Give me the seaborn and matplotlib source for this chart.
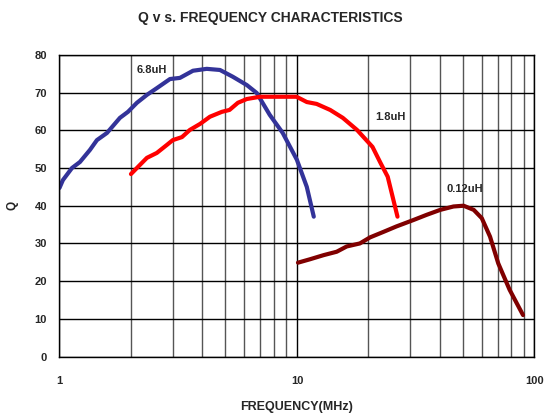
import numpy as np
import pandas as pd
import matplotlib
matplotlib.use("Agg")
import matplotlib.pyplot as plt
import seaborn as sns
from matplotlib.ticker import LogLocator, NullFormatter

# ---- data ----
freq_68 = [1.0, 1.034, 1.129, 1.22, 1.344, 1.438, 1.585, 1.797, 1.943, 2.119, 2.335, 2.573,
           2.92, 3.215, 3.65, 4.17, 4.74, 5.37, 6.15, 6.77, 7.68, 8.71, 9.99, 11.0, 11.77]
q_68 = [44.7, 46.8, 50.0, 51.6, 54.8, 57.4, 59.3, 63.3, 64.9, 67.3, 69.4, 71.2,
        73.6, 73.9, 75.8, 76.3, 76.0, 74.2, 72.0, 69.9, 64.1, 59.3, 52.2, 45.0, 37.1]

freq_18 = [2.0, 2.18, 2.335, 2.57, 2.83, 3.0, 3.28, 3.54, 3.91, 4.3, 4.83, 5.2, 5.64, 6.15,
           6.99, 9.96, 11.0, 12.1, 13.8, 15.6, 17.9, 20.8, 22.5, 24.1, 26.5]
q_18 = [48.4, 50.8, 52.7, 54.0, 56.1, 57.4, 58.2, 60.1, 61.7, 63.6, 64.9, 65.4, 67.3, 68.3,
        68.9, 68.9, 67.5, 67.0, 65.4, 63.3, 60.1, 55.6, 51.3, 47.7, 37.1]

freq_012 = [10.1, 11.34, 12.95, 14.7, 16.2, 18.4, 20.3, 23.2, 26.2, 30.9, 35.2, 40.1, 45.6,
            50.3, 55.5, 60.0, 65.0, 70.4, 78.6, 89.5]
q_012 = [24.9, 25.8, 26.9, 27.8, 29.2, 30.0, 31.6, 33.1, 34.5, 36.2, 37.6, 38.9, 39.8,
         40.0, 38.9, 36.7, 31.8, 24.7, 17.7, 11.0]

series_names = ["6.8uH", "1.8uH", "0.12uH"]
series_colors = ["#333399", "#FF0000", "#800000"]
label_pos = [(2.45, 76.0), (24.7, 63.6), (50.9, 44.5)]

x_ticks = [1, 10, 100]
x_tick_labels = ["1", "10", "100"]
y_ticks = [0, 10, 20, 30, 40, 50, 60, 70, 80]

df = pd.concat([
    pd.DataFrame({"freq": freq_68, "Q": q_68, "series": series_names[0]}),
    pd.DataFrame({"freq": freq_18, "Q": q_18, "series": series_names[1]}),
    pd.DataFrame({"freq": freq_012, "Q": q_012, "series": series_names[2]}),
])

sns.set_style("white")
plt.rcParams["font.family"] = ["Liberation Sans", "DejaVu Sans"]
plt.rcParams["font.weight"] = "bold"

fig = plt.figure(figsize=(5.53, 4.19), dpi=100)
ax = fig.add_axes([0.1075, 0.149, 0.859, 0.72])

ax.set_xscale("log")
ax.set_xlim(1, 100)
ax.set_ylim(0, 80)

# grid
ax.xaxis.set_minor_locator(LogLocator(base=10, subs=np.arange(2, 10)))
ax.xaxis.set_minor_formatter(NullFormatter())
ax.set_xticks(x_ticks)
ax.set_xticklabels(x_tick_labels)
ax.set_yticks(y_ticks)
ax.grid(True, which="major", axis="both", color="black", linewidth=1.0)
ax.grid(True, which="minor", axis="x", color="#555555", linewidth=1.0)
ax.set_axisbelow(True)

sns.lineplot(data=df, x="freq", y="Q", hue="series", palette=series_colors,
             hue_order=series_names, linewidth=3.0, legend=False, ax=ax, sort=False)

for name, (lx, ly) in zip(series_names, label_pos):
    ax.text(lx, ly, name, ha="center", va="center", fontsize=8, fontweight="bold")

for sp in ax.spines.values():
    sp.set_color("black")
    sp.set_linewidth(1.0)

ax.tick_params(axis="both", which="both", length=0)
ax.tick_params(axis="x", pad=14, labelsize=8)
ax.tick_params(axis="y", pad=9, labelsize=8)
for lab in ax.get_xticklabels() + ax.get_yticklabels():
    lab.set_fontweight("bold")

ax.set_xlabel("FREQUENCY(MHz)", fontsize=9, fontweight="bold", labelpad=11)
ax.set_ylabel("Q", fontsize=8.5, fontweight="bold")
ax.yaxis.set_label_coords(-0.087, 0.5)
fig.text(0.488, 0.958, "Q v s. FREQUENCY CHARACTERISTICS", ha="center", va="center",
         fontsize=10, fontweight="bold")

fig.savefig("out.png", dpi=100)
